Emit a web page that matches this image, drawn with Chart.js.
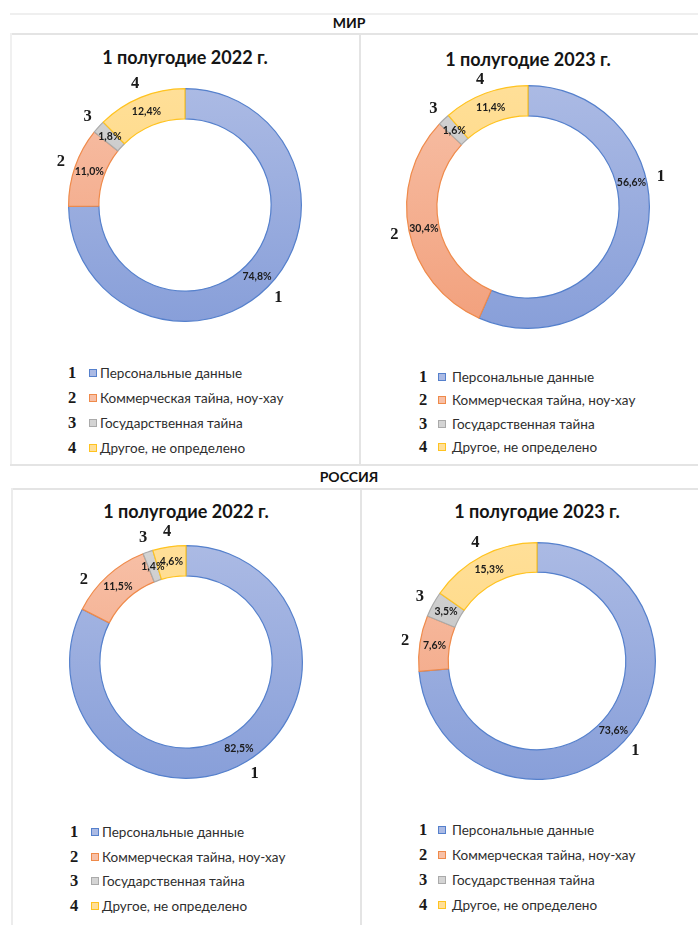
<!DOCTYPE html>
<html lang="ru">
<head>
<meta charset="utf-8">
<script src="https://cdn.jsdelivr.net/npm/chart.js@4.4.1/dist/chart.umd.min.js"></script>
<style>
  body { margin: 0; width: 698px; height: 925px; position: relative; background: #fff; font-family: Lato, "Open Sans", sans-serif; overflow: hidden; }
  .hline { position: absolute; height: 2px; background: #e4e4e4; }
  .vline { position: absolute; width: 2px; background: #e4e4e4; }
  .section { position: absolute; left: 0; width: 698px; text-align: center; font-weight: bold; font-size: 14px; color: #111; }
  .title { position: absolute; width: 300px; text-align: center; font-weight: bold; font-size: 18px; color: #151515; }
  canvas { position: absolute; }
  .legend { position: absolute; }
  .row { position: absolute; left: 0; height: 20px; line-height: 20px; white-space: nowrap; }
  .num { position: absolute; left: -10px; width: 20px; text-align: center; font-family: "Liberation Serif", serif; font-weight: bold; font-size: 16.5px; color: #1a1a1a; }
  .sq { position: absolute; width: 6px; height: 6px; top: 6px; border: 1px solid; }
  .txt { position: absolute; font-size: 13.5px; color: #2e2e2e; }
</style>
</head>
<body>
<div class="hline" style="left:10px; top:13px; width:688px; background:#efefef"></div>
<div class="hline" style="left:10px; top:33px; width:688px"></div>
<div class="vline" style="left:10px; top:33px; height:432px; background:#f0f0f0"></div>
<div class="vline" style="left:359px; top:33px; height:432px"></div>
<div class="hline" style="left:10px; top:464px; width:688px"></div>
<div class="hline" style="left:11px; top:488px; width:687px"></div>
<div class="vline" style="left:11px; top:488px; height:437px; background:#ececec"></div>
<div class="vline" style="left:360px; top:488px; height:437px"></div>

<script>
const categories = ['Персональные данные', 'Коммерческая тайна, ноу-хау', 'Государственная тайна', 'Другое, не определено'];
const sliceNumbers = ['1', '2', '3', '4'];
const sections = ['МИР', 'РОССИЯ'];
const periods = ['1 полугодие 2022 г.', '1 полугодие 2023 г.'];

const world2022 = [74.8, 11.0, 1.8, 12.4];
const world2023 = [56.6, 30.4, 1.6, 11.4];
const russia2022 = [82.5, 11.5, 1.4, 4.6];
const russia2023 = [73.6, 7.6, 3.5, 15.3];

// top / bottom of the gradient fill, and the outline colour
const fills = [['#abbae4', '#889fd9'], ['#f7c0a7', '#f2a07c'], ['#d4d4d4', '#bababa'], ['#ffdf98', '#ffd473']];
const borders = ['#5580cc', '#ef8a4a', '#aaaaaa', '#ffc320'];

const sliceLabels = {
  id: 'sliceLabels',
  afterDatasetsDraw(chart, args, opts) {
    const ctx = chart.ctx;
    const values = chart.data.datasets[0].data;
    const toRad = d => (d - 90) * Math.PI / 180;
    chart.getDatasetMeta(0).data.forEach((arc, i) => {
      const p = arc.getProps(['x', 'y', 'startAngle', 'endAngle', 'innerRadius', 'outerRadius'], true);
      let a = (p.startAngle + p.endAngle) / 2;
      if (opts.angles && opts.angles[i] != null) a = toRad(opts.angles[i]);
      let b = a;
      if (opts.numAngles && opts.numAngles[i] != null) b = toRad(opts.numAngles[i]);
      const mid = (p.innerRadius + p.outerRadius) / 2;
      const out = p.outerRadius + 15;
      ctx.save();
      ctx.textAlign = 'center';
      ctx.textBaseline = 'middle';
      ctx.fillStyle = '#1b1b1b';
      ctx.font = 'bold 10.5px Lato';
      ctx.fillText(values[i].toFixed(1).replace('.', ',') + '%', p.x + Math.cos(a) * mid, p.y + Math.sin(a) * mid);
      ctx.fillStyle = '#1a1a1a';
      ctx.font = 'bold 16.5px "Liberation Serif"';
      ctx.fillText(sliceNumbers[i], p.x + Math.cos(b) * out, p.y + Math.sin(b) * out);
      ctx.restore();
    });
  }
};

const panels = [
  { values: world2022, title: periods[0], cx: 185, cy: 205, r: 117, cut: '74%', titleY: 46, legendX: 72, legendY: 373, step: 25 },
  { values: world2023, title: periods[1], cx: 528, cy: 207, r: 122, cut: '75%', titleY: 48, legendX: 423, legendY: 377, step: 23.3, angles: [77] },
  { values: russia2022, title: periods[0], cx: 186, cy: 662, r: 117, cut: '74%', titleY: 500, legendX: 74, legendY: 832, step: 24.7, numAngles: [null, 309] },
  { values: russia2023, title: periods[1], cx: 537, cy: 661, r: 119, cut: '75%', titleY: 500, legendX: 423, legendY: 830, step: 25 }
];

function addSection(text, top) {
  var d = document.createElement('div')
  d.className = 'section'
  d.style.top = top + 'px'
  d.textContent = text
  document.body.appendChild(d)
}
addSection(sections[0], 14)
addSection(sections[1], 468)

panels.forEach(p => {
  var t = document.createElement('div')
  t.className = 'title'
  t.style.left = (p.cx - 150) + 'px'
  t.style.top = p.titleY + 'px'
  t.textContent = p.title
  document.body.appendChild(t)

  var pad = 24
  var size = 2 * (p.r + pad)
  var canvas = document.createElement('canvas')
  canvas.width = size
  canvas.height = size
  canvas.style.left = (p.cx - size / 2) + 'px'
  canvas.style.top = (p.cy - size / 2) + 'px'
  document.body.appendChild(canvas)

  new Chart(canvas, {
    type: 'doughnut',
    data: {
      labels: categories,
      datasets: [{
        data: p.values,
        backgroundColor: c => {
          var area = c.chart.chartArea
          var f = fills[c.dataIndex]
          if (!area) return f[0]
          var g = c.chart.ctx.createLinearGradient(0, area.top, 0, area.bottom)
          g.addColorStop(0, f[0])
          g.addColorStop(1, f[1])
          return g
        },
        borderColor: borders,
        borderWidth: 1.2
      }]
    },
    options: {
      responsive: false,
      animation: false,
      cutout: p.cut,
      layout: { padding: pad },
      plugins: {
        legend: { display: false },
        tooltip: { enabled: false },
        sliceLabels: { angles: p.angles, numAngles: p.numAngles }
      }
    },
    plugins: [sliceLabels]
  });

  var lg = document.createElement('div')
  lg.className = 'legend'
  lg.style.left = p.legendX + 'px'
  lg.style.top = p.legendY + 'px'
  categories.forEach((name, i) => {
    var row = document.createElement('div')
    row.className = 'row'
    row.style.top = (i * p.step - 10) + 'px'
    row.innerHTML = `<span class="num">${sliceNumbers[i]}</span>` +
      `<span class="sq" style="left:${p.legendX < 300 ? 17 : 15}px; background:${fills[i][0]}; border-color:${borders[i]}"></span>` +
      `<span class="txt" style="left:${p.legendX < 300 ? 28 : 29}px">${name}</span>`
    lg.appendChild(row)
  })
  document.body.appendChild(lg)
})
</script>
</body>
</html>
